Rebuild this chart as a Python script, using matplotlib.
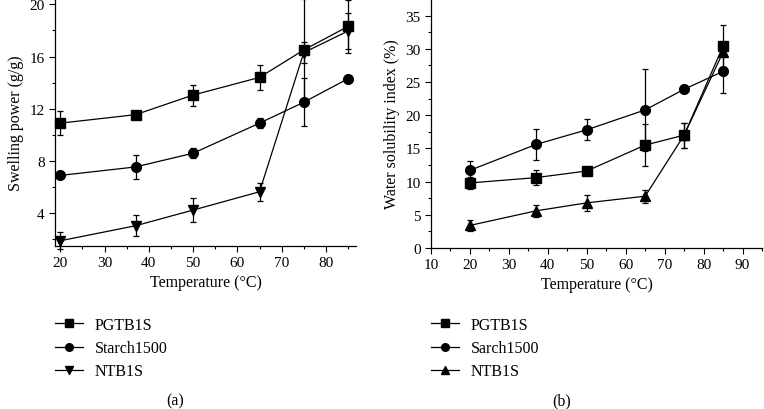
#!/usr/bin/env python3
"""Swelling power and water solubility index vs temperature, two panels."""

import matplotlib
matplotlib.use("Agg")
import matplotlib.pyplot as plt
from matplotlib.lines import Line2D
from matplotlib.ticker import MultipleLocator

plt.rcParams["font.family"] = ["Liberation Serif", "DejaVu Serif"]
plt.rcParams["font.size"] = 11

temps = [20, 37, 50, 65, 75, 85]

# (a) swelling power (g/g)
sp_pgtb1s = [10.9, 11.55, 13.05, 14.4, 16.5, 18.3]
sp_pgtb1s_err = [0.9, 0.0, 0.8, 0.95, 3.9, 2.0]
sp_starch = [6.9, 7.55, 8.6, 10.9, 12.5, 14.3]
sp_starch_err = [0.0, 0.95, 0.4, 0.4, 1.85, 0.0]
sp_ntb1s = [1.9, 3.05, 4.25, 5.65, 16.3, 17.95]
sp_ntb1s_err = [0.65, 0.8, 0.9, 0.7, 0.8, 1.35]

# (b) water solubility index (%)
ws_pgtb1s = [9.8, 10.6, 11.6, 15.5, 17.0, 30.4]
ws_pgtb1s_err = [0.9, 1.1, 0.0, 3.2, 1.9, 3.2]
ws_starch = [11.7, 15.6, 17.8, 20.8, 23.9, 26.6]
ws_starch_err = [1.4, 2.3, 1.6, 6.2, 0.0, 3.3]
ws_ntb1s = [3.4, 5.6, 6.8, 7.8, 17.0, 29.5]
ws_ntb1s_err = [0.85, 0.9, 1.2, 1.0, 1.9, 0.0]

labels_a = ["PGTB1S", "Starch1500", "NTB1S"]
labels_b = ["PGTB1S", "Sarch1500", "NTB1S"]


def draw_series(ax, y, err, marker):
    ax.errorbar(temps, y, yerr=err, fmt="-", marker=marker, color="black",
                markersize=7, linewidth=0.9, elinewidth=0.9, capsize=2.5,
                capthick=0.9, clip_on=False)


def style_axis(ax):
    for side in ("top", "right"):
        ax.spines[side].set_visible(False)
    for side in ("left", "bottom"):
        ax.spines[side].set_linewidth(0.9)
    ax.tick_params(which="major", direction="out", length=4, width=0.8,
                   labelsize=11)
    ax.tick_params(which="minor", direction="out", length=2.5, width=0.8)


def add_legend(markers, labels, x_px):
    handles = [Line2D([], [], color="black", linewidth=0.9, marker=m,
                      markersize=5.5) for m in markers]
    fig.legend(handles, labels, loc="upper left", frameon=False, borderpad=0,
               borderaxespad=0, handlelength=1.75, handletextpad=0.75,
               labelspacing=0.45, fontsize=11.5,
               bbox_to_anchor=(x_px / 764, 1 - 318 / 410))


fig = plt.figure(figsize=(7.64, 4.10), dpi=100)
ax1 = fig.add_axes([55 / 764, 1 - 247 / 410, 301 / 764, 247 / 410])
ax2 = fig.add_axes([431 / 764, 1 - 249 / 410, 331 / 764, 249 / 410])

draw_series(ax1, sp_pgtb1s, sp_pgtb1s_err, "s")
draw_series(ax1, sp_starch, sp_starch_err, "o")
draw_series(ax1, sp_ntb1s, sp_ntb1s_err, "v")
ax1.set_xlim(18.8, 86.8)
ax1.set_ylim(1.5, 20.4)
ax1.set_xticks(range(20, 90, 10))
ax1.set_yticks(range(4, 24, 4))
ax1.xaxis.set_minor_locator(MultipleLocator(5))
ax1.yaxis.set_minor_locator(MultipleLocator(2))
ax1.set_xlabel("Temperature (°C)", labelpad=3, fontsize=11.5)
ax1.set_ylabel("Swelling power (g/g)", labelpad=4, fontsize=11.5)
style_axis(ax1)

draw_series(ax2, ws_pgtb1s, ws_pgtb1s_err, "s")
draw_series(ax2, ws_starch, ws_starch_err, "o")
draw_series(ax2, ws_ntb1s, ws_ntb1s_err, "^")
ax2.set_xlim(10, 95)
ax2.set_ylim(0, 37.5)
ax2.set_xticks(range(10, 100, 10))
ax2.set_yticks(range(0, 40, 5))
ax2.xaxis.set_minor_locator(MultipleLocator(5))
ax2.yaxis.set_minor_locator(MultipleLocator(2.5))
ax2.set_xlabel("Temperature (°C)", labelpad=3, fontsize=11.5)
ax2.set_ylabel("Water solubility index (%)", labelpad=4, fontsize=11.5)
style_axis(ax2)

add_legend(["s", "o", "v"], labels_a, 55)
add_legend(["s", "o", "^"], labels_b, 431)

fig.text(175 / 764, 1 - 401 / 410, "(a)", ha="center", va="center", fontsize=11.5)
fig.text(562 / 764, 1 - 401 / 410, "(b)", ha="center", va="center", fontsize=11.5)

fig.savefig("out.png", dpi=100)
